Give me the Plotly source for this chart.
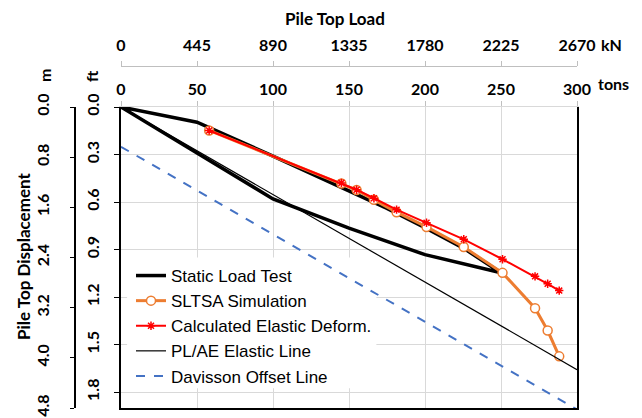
import plotly.graph_objects as go

# ---------------- data (tons, ft) ----------------
slt_load = [0, 50, 100, 150, 175, 200, 225, 250, 200, 150, 100, 50, 0]
slt_disp = [0, 0.096, 0.31, 0.53, 0.64, 0.762, 0.889, 1.046, 0.932, 0.765, 0.58, 0.29, 0]

sim_load = [58, 145, 155, 166.4, 181.3, 201, 225.5, 251, 272.4, 280.7, 288.3]
sim_disp = [0.148, 0.483, 0.524, 0.586, 0.664, 0.757, 0.884, 1.047, 1.270, 1.411, 1.574]

ced_load = [58, 145, 155, 166.4, 181.3, 201, 225.5, 251, 272.4, 280.7, 288.3]
ced_disp = [0.148, 0.479, 0.522, 0.576, 0.648, 0.731, 0.835, 0.961, 1.069, 1.116, 1.159]

ela_load = [0, 300]
ela_disp = [0, 1.658]

dav_load = [0, 300]
dav_disp = [0.251, 1.909]

ton_ticks = [0, 50, 100, 150, 200, 250, 300]
kn_labels = ["0", "445", "890", "1335", "1780", "2225", "2670"]
ft_ticks = [0.0, 0.3, 0.6, 0.9, 1.2, 1.5, 1.8]
ft_labels = ["0.0", "0.3", "0.6", "0.9", "1.2", "1.5", "1.8"]
m_ticks = [0.0, 0.8, 1.6, 2.4, 3.2, 4.0, 4.8]
m_labels = ["0.0", "0.8", "1.6", "2.4", "3.2", "4.0", "4.8"]

# page body has an 8px margin: figure is placed at (8, 8)
OFF = 8
W, H = 642 - OFF, 418 - OFF
def px(x):
    return (x - OFF) / W
def py(y):
    return 1 - (y - OFF) / H

L, R, T, B = 121, 577, 107, 408
TICKFONT = dict(family="Lato", size=16, color="black", weight="bold")
GRID = "#D9D9D9"

fig = go.Figure()
fig.add_trace(go.Scatter(x=slt_load, y=slt_disp, mode="lines", name="Static Load Test",
                         line=dict(color="black", width=3.5)))
fig.add_trace(go.Scatter(x=sim_load, y=sim_disp, mode="lines+markers", name="SLTSA Simulation",
                         line=dict(color="#ED7D31", width=3),
                         marker=dict(symbol="circle", size=9, color="white",
                                     line=dict(color="#ED7D31", width=1.5))))
fig.add_trace(go.Scatter(x=ced_load, y=ced_disp, mode="lines+markers", name="Calculated Elastic Deform.",
                         line=dict(color="#FF0000", width=2),
                         marker=dict(symbol="asterisk-open", size=7, color="#FF0000",
                                     line=dict(color="#FF0000", width=1.5))))
fig.add_trace(go.Scatter(x=ela_load, y=ela_disp, mode="lines", name="PL/AE Elastic Line",
                         line=dict(color="black", width=1.2)))
fig.add_trace(go.Scatter(x=dav_load, y=dav_disp, mode="lines", name="Davisson Offset Line",
                         line=dict(color="#4472C4", width=2, dash="dash")))
# invisible traces to bind extra axes
fig.add_trace(go.Scatter(x=[0], y=[0], xaxis="x2", yaxis="y", mode="markers",
                         marker=dict(opacity=0), showlegend=False, hoverinfo="skip"))
fig.add_trace(go.Scatter(x=[0], y=[0], xaxis="x3", yaxis="y", mode="markers",
                         marker=dict(opacity=0), showlegend=False, hoverinfo="skip"))
fig.add_trace(go.Scatter(x=[0], y=[0], xaxis="x", yaxis="y2", mode="markers",
                         marker=dict(opacity=0), showlegend=False, hoverinfo="skip"))

fig.update_layout(
    width=W, height=H,
    margin=dict(l=0, r=0, t=0, b=0, autoexpand=False),
    paper_bgcolor="white", plot_bgcolor="rgba(0,0,0,0)",
    showlegend=True,
    legend=dict(x=px(131), y=py(258), xanchor="left", yanchor="top",
                bgcolor="rgba(0,0,0,0)", borderwidth=0,
                font=dict(family="Liberation Sans", size=17, color="black"),
                tracegroupgap=0),
    xaxis=dict(domain=[px(L), px(R)], range=[0, 300], side="top", anchor="y",
               tickvals=ton_ticks, ticktext=[str(v) for v in ton_ticks],
               showgrid=True, gridcolor=GRID, gridwidth=1,
               showline=True, linecolor=GRID, linewidth=1,
               ticks="outside", ticklen=5, tickcolor="#BFBFBF",
               tickfont=TICKFONT, zeroline=False, ticklabelstandoff=0),
    xaxis2=dict(overlaying="x", range=[0, 300], side="top", anchor="free", position=py(66),
                tickvals=ton_ticks, ticktext=kn_labels,
                showgrid=False, showline=True, linecolor="#BFBFBF", linewidth=1,
                ticks="outside", ticklen=5, tickcolor="#BFBFBF",
                tickfont=TICKFONT, zeroline=False, ticklabelstandoff=4),
    xaxis3=dict(overlaying="x", range=[0, 300], side="bottom", anchor="y",
                showgrid=False, showline=True, linecolor="black", linewidth=1.5,
                showticklabels=False, ticks="", zeroline=False),
    yaxis=dict(domain=[py(B), py(T)], range=[1.9, 0], anchor="x",
               tickvals=ft_ticks, ticktext=ft_labels, tickangle=-90,
               showgrid=True, gridcolor=GRID, gridwidth=1,
               showline=True, linecolor="black", linewidth=1.5, mirror=True,
               ticks="outside", ticklen=5, tickcolor="black",
               tickfont=TICKFONT, zeroline=False, ticklabelstandoff=9),
    yaxis2=dict(overlaying="y", range=[4.8, 0], anchor="free", position=px(75), side="left",
                tickvals=m_ticks, ticktext=m_labels, tickangle=-90,
                showgrid=False, showline=True, linecolor="black", linewidth=1.5,
                ticks="outside", ticklen=4, tickcolor="black",
                tickfont=TICKFONT, zeroline=False, ticklabelstandoff=15),
)

fig.add_shape(type="rect", xref="x", yref="y", x0=4, x1=168, y0=0.95, y1=1.775,
              fillcolor="white", line=dict(width=0), layer="between")

def note(text, x, y, size=16, angle=0):
    fig.add_annotation(text=text, x=px(x), y=py(y), xref="paper", yref="paper",
                       xanchor="center", yanchor="middle", textangle=angle,
                       showarrow=False,
                       font=dict(family="Lato", size=size, color="black", weight="bold"))

note("Pile Top Load", 335, 18, size=17)
note("kN", 611, 45)
note("tons", 613, 84)
note("m", 44, 76, angle=-90)
note("ft", 91, 76, angle=-90)
note("Pile Top Displacement", 23, 257, size=17, angle=-90)

fig.write_html("out.html")
